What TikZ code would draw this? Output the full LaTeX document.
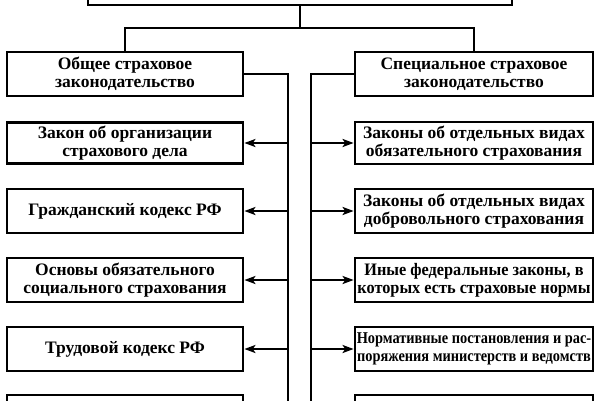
\documentclass[tikz,border=0pt]{standalone}
\usepackage{fontspec}
\setmainfont{Liberation Serif}
\newfontfamily\condfont{Liberation Serif}[FakeStretch=0.87]
\newfontfamily\semicond{Liberation Serif}[FakeStretch=0.93]
\usetikzlibrary{arrows.meta}
\begin{document}
\begin{tikzpicture}[x=1pt,y=-1pt,
  box/.style={draw, line width=2.8pt, minimum height=43pt, align=center,
    inner sep=0pt, font=\bfseries\fontsize{17.5}{18}\selectfont},
  lbox/.style={box, minimum width=236pt},
  rbox/.style={box, minimum width=238pt},
  conn/.style={line width=2.4pt},
  arr/.style={conn, -{Stealth[length=11pt,width=8pt,inset=2.5pt]}}]
\clip (0,0) rectangle (600,400);
\fill[white] (0,0) rectangle (600,400);
% top box (cut off)
\node[box, minimum width=424pt, minimum height=60pt] (top) at (300,-25) {};
% headers
\node[lbox, minimum height=44pt] (gen) at (125,74) {Общее страховое\\законодательство};
\node[rbox, minimum height=44pt] (spec) at (474,74) {Специальное страховое\\законодательство};
\coordinate (j) at (300,28);
\coordinate (jl) at (125,28);
\coordinate (jr) at (474,28);
\draw[conn] (top.south) -- (j);
\draw[conn] (gen.north) -- (jl) -- (jr) -- (spec.north);
% trunks
\coordinate (tl) at (288,74);
\coordinate (tle) at (288,420);
\coordinate (tr) at (311,74);
\coordinate (tre) at (311,420);
\draw[conn] (gen.east) -- (tl) -- (tle);
\draw[conn] (spec.west) -- (tr) -- (tre);
% left boxes
\node[lbox, minimum height=41pt] (l1) at (125,143) {Закон об организации\\страхового дела};
\node[lbox, minimum height=44pt] (l2) at (125,211) {Гражданский кодекс РФ};
\node[lbox, minimum height=44pt] (l3) at (125,280) {Основы обязательного\\социального страхования};
\node[lbox, minimum height=44pt] (l4) at (125,349) {Трудовой кодекс РФ};
\node[lbox, minimum height=44pt] (l5) at (125,417) {};
% right boxes
\node[rbox, minimum height=42pt] (r1) at (474,143) {Законы об отдельных видах\\обязательного страхования};
\node[rbox, minimum height=44pt] (r2) at (474,211) {Законы об отдельных видах\\добровольного страхования};
\node[rbox, minimum height=44pt, font=\bfseries\semicond\fontsize{17.5}{18}\selectfont] (r3) at (474,280) {Иные федеральные законы, в\\которых есть страховые нормы};
\node[rbox, minimum height=44pt, font=\bfseries\condfont\fontsize{16.5}{18}\selectfont] (r4) at (474,349) {Нормативные постановления и рас-\\поряжения министерств и ведомств};
\node[rbox, minimum height=44pt] (r5) at (474,417) {};
% arrows
\foreach \n/\y in {1/143,2/211,3/280,4/349}{
  \coordinate (al\n) at (288,\y);
  \coordinate (ar\n) at (311,\y);
  \draw[arr] (al\n) -- (l\n.east |- al\n);
  \draw[arr] (ar\n) -- (r\n.west |- ar\n);
}
\end{tikzpicture}
\end{document}
